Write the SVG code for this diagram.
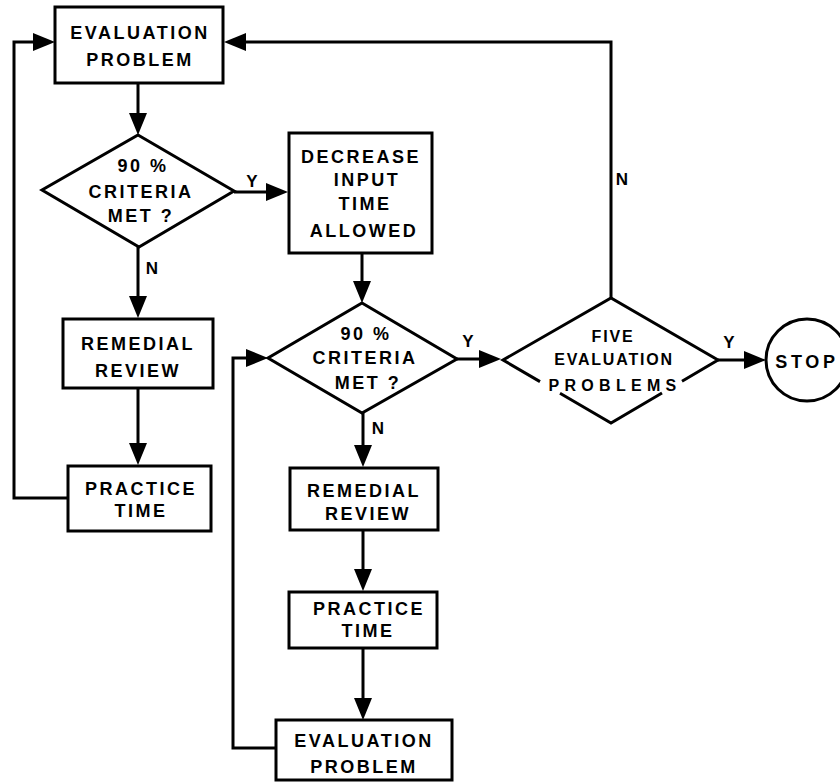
<svg xmlns="http://www.w3.org/2000/svg" width="840" height="784" viewBox="0 0 840 784">
<defs>
<marker id="ah" markerUnits="userSpaceOnUse" markerWidth="22" markerHeight="18" refX="12" refY="9" orient="auto">
<path d="M0,0 L22,9 L0,18 z" fill="#000"/>
</marker>
<style>
.box{fill:#fff;stroke:#000;stroke-width:3}
.shape{fill:none;stroke:#000;stroke-width:3;stroke-linejoin:miter}
.con{fill:none;stroke:#000;stroke-width:3;marker-end:url(#ah)}
text{font-family:"Liberation Sans",Arial,sans-serif;font-weight:bold;font-size:18px;letter-spacing:2.5px;text-anchor:middle;fill:#000}
.lbl{letter-spacing:0;font-size:17px}
.sm{font-size:16px;letter-spacing:1.8px}
</style>
</defs>
<rect width="840" height="784" fill="#fff"/>

<g id="connectors">
<path class="con" d="M138,83 V125"/>
<path class="con" d="M234,192 H278"/>
<path class="con" d="M362,253 V293"/>
<path class="con" d="M457,359 H491"/>
<path class="con" d="M718,360 H756"/>
<path class="con" d="M611,298 V42 H234"/>
<path class="con" d="M138,247 V308"/>
<path class="con" d="M138,388 V455"/>
<path class="con" d="M68,498 H14 V42 H45"/>
<path class="con" d="M363,413 V457"/>
<path class="con" d="M363,530 V581"/>
<path class="con" d="M363,648 V710"/>
<path class="con" d="M276,748 H233 V358 H258"/>
<text class="lbl" x="252" y="187">Y</text>
<text class="lbl" x="152" y="274">N</text>
<text class="lbl" x="468" y="347">Y</text>
<text class="lbl" x="378" y="434">N</text>
<text class="lbl" x="622" y="185">N</text>
<text class="lbl" x="729" y="348">Y</text>
</g>

<g id="eval1">
<rect class="box" x="55" y="7" width="168" height="76"/>
<text x="140" y="39">EVALUATION</text>
<text x="140" y="66">PROBLEM</text>
</g>

<g id="crit1">
<path class="shape" d="M138,135 L234,191 L139,247 L42,190 Z"/>
<text x="143" y="172">90 %</text>
<text x="141" y="198">CRITERIA</text>
<text x="141" y="222">MET ?</text>
</g>

<g id="decrease">
<rect class="box" x="289" y="133" width="143" height="120"/>
<text x="361" y="163">DECREASE</text>
<text x="367" y="186">INPUT</text>
<text x="365" y="210">TIME</text>
<text x="364" y="237">ALLOWED</text>
</g>

<g id="crit2">
<path class="shape" d="M362,303 L457,359 L362,413 L268,358 Z"/>
<text x="366" y="340">90 %</text>
<text x="365" y="364">CRITERIA</text>
<text x="368" y="389">MET ?</text>
</g>

<g id="five">
<path class="shape" d="M540,381.6 L503,360 L611,298 L718,360 L682,381.2"/>
<path class="shape" d="M560,393.2 L611,423 L662,393"/>
<text class="sm" x="613" y="342">FIVE</text>
<text class="sm" x="614" y="365">EVALUATION</text>
<text class="sm" x="615" y="391" style="letter-spacing:5.3px">PROBLEMS</text>
</g>

<g id="stop">
<circle class="shape" cx="807" cy="360" r="41"/>
<text x="807" y="368" style="letter-spacing:3.7px">STOP</text>
</g>

<g id="remedial1">
<rect class="box" x="63" y="319" width="150" height="69"/>
<text x="138" y="350">REMEDIAL</text>
<text x="138" y="377">REVIEW</text>
</g>

<g id="practice1">
<rect class="box" x="68" y="466" width="143" height="65"/>
<text x="141" y="495">PRACTICE</text>
<text x="141" y="517">TIME</text>
</g>

<g id="remedial2">
<rect class="box" x="290" y="468" width="148" height="62"/>
<text x="364" y="497">REMEDIAL</text>
<text x="368" y="520">REVIEW</text>
</g>

<g id="practice2">
<rect class="box" x="289" y="592" width="148" height="56"/>
<text x="369" y="615">PRACTICE</text>
<text x="368" y="637">TIME</text>
</g>

<g id="eval2">
<rect class="box" x="276" y="720" width="176" height="60"/>
<text x="364" y="747">EVALUATION</text>
<text x="364" y="773">PROBLEM</text>
</g>
</svg>
